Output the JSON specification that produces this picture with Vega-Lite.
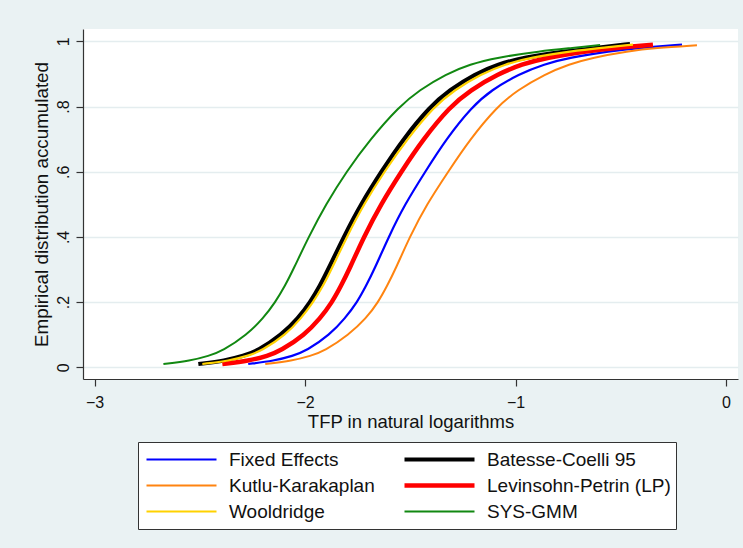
{
  "$schema": "https://vega.github.io/schema/vega-lite/v6.json",
  "width": 655,
  "height": 350,
  "autosize": {"type": "none"},
  "padding": {"left": 83, "top": 29, "right": 5, "bottom": 169},
  "background": "#EAF2F3",
  "data": {
    "values": [
      {"series": "Fixed Effects", "tfp": -2.270, "cdf": 0.01},
      {"series": "Fixed Effects", "tfp": -2.146, "cdf": 0.02},
      {"series": "Fixed Effects", "tfp": -2.058, "cdf": 0.035},
      {"series": "Fixed Effects", "tfp": -1.994, "cdf": 0.05},
      {"series": "Fixed Effects", "tfp": -1.882, "cdf": 0.10},
      {"series": "Fixed Effects", "tfp": -1.810, "cdf": 0.15},
      {"series": "Fixed Effects", "tfp": -1.752, "cdf": 0.20},
      {"series": "Fixed Effects", "tfp": -1.710, "cdf": 0.25},
      {"series": "Fixed Effects", "tfp": -1.671, "cdf": 0.30},
      {"series": "Fixed Effects", "tfp": -1.603, "cdf": 0.40},
      {"series": "Fixed Effects", "tfp": -1.526, "cdf": 0.50},
      {"series": "Fixed Effects", "tfp": -1.429, "cdf": 0.60},
      {"series": "Fixed Effects", "tfp": -1.330, "cdf": 0.70},
      {"series": "Fixed Effects", "tfp": -1.206, "cdf": 0.80},
      {"series": "Fixed Effects", "tfp": -1.116, "cdf": 0.85},
      {"series": "Fixed Effects", "tfp": -0.983, "cdf": 0.90},
      {"series": "Fixed Effects", "tfp": -0.864, "cdf": 0.93},
      {"series": "Fixed Effects", "tfp": -0.745, "cdf": 0.95},
      {"series": "Fixed Effects", "tfp": -0.551, "cdf": 0.97},
      {"series": "Fixed Effects", "tfp": -0.408, "cdf": 0.98},
      {"series": "Fixed Effects", "tfp": -0.209, "cdf": 0.99},

      {"series": "Batesse-Coelli 95", "tfp": -2.507, "cdf": 0.01},
      {"series": "Batesse-Coelli 95", "tfp": -2.379, "cdf": 0.02},
      {"series": "Batesse-Coelli 95", "tfp": -2.291, "cdf": 0.035},
      {"series": "Batesse-Coelli 95", "tfp": -2.226, "cdf": 0.05},
      {"series": "Batesse-Coelli 95", "tfp": -2.110, "cdf": 0.10},
      {"series": "Batesse-Coelli 95", "tfp": -2.033, "cdf": 0.15},
      {"series": "Batesse-Coelli 95", "tfp": -1.975, "cdf": 0.20},
      {"series": "Batesse-Coelli 95", "tfp": -1.929, "cdf": 0.25},
      {"series": "Batesse-Coelli 95", "tfp": -1.890, "cdf": 0.30},
      {"series": "Batesse-Coelli 95", "tfp": -1.816, "cdf": 0.40},
      {"series": "Batesse-Coelli 95", "tfp": -1.735, "cdf": 0.50},
      {"series": "Batesse-Coelli 95", "tfp": -1.638, "cdf": 0.60},
      {"series": "Batesse-Coelli 95", "tfp": -1.534, "cdf": 0.70},
      {"series": "Batesse-Coelli 95", "tfp": -1.406, "cdf": 0.80},
      {"series": "Batesse-Coelli 95", "tfp": -1.315, "cdf": 0.85},
      {"series": "Batesse-Coelli 95", "tfp": -1.192, "cdf": 0.90},
      {"series": "Batesse-Coelli 95", "tfp": -1.083, "cdf": 0.93},
      {"series": "Batesse-Coelli 95", "tfp": -0.964, "cdf": 0.95},
      {"series": "Batesse-Coelli 95", "tfp": -0.755, "cdf": 0.97},
      {"series": "Batesse-Coelli 95", "tfp": -0.608, "cdf": 0.98},
      {"series": "Batesse-Coelli 95", "tfp": -0.456, "cdf": 0.992},

      {"series": "Kutlu-Karakaplan", "tfp": -2.189, "cdf": 0.01},
      {"series": "Kutlu-Karakaplan", "tfp": -2.061, "cdf": 0.02},
      {"series": "Kutlu-Karakaplan", "tfp": -1.973, "cdf": 0.035},
      {"series": "Kutlu-Karakaplan", "tfp": -1.908, "cdf": 0.05},
      {"series": "Kutlu-Karakaplan", "tfp": -1.792, "cdf": 0.10},
      {"series": "Kutlu-Karakaplan", "tfp": -1.710, "cdf": 0.15},
      {"series": "Kutlu-Karakaplan", "tfp": -1.652, "cdf": 0.20},
      {"series": "Kutlu-Karakaplan", "tfp": -1.610, "cdf": 0.25},
      {"series": "Kutlu-Karakaplan", "tfp": -1.571, "cdf": 0.30},
      {"series": "Kutlu-Karakaplan", "tfp": -1.503, "cdf": 0.40},
      {"series": "Kutlu-Karakaplan", "tfp": -1.422, "cdf": 0.50},
      {"series": "Kutlu-Karakaplan", "tfp": -1.320, "cdf": 0.60},
      {"series": "Kutlu-Karakaplan", "tfp": -1.216, "cdf": 0.70},
      {"series": "Kutlu-Karakaplan", "tfp": -1.087, "cdf": 0.80},
      {"series": "Kutlu-Karakaplan", "tfp": -0.992, "cdf": 0.85},
      {"series": "Kutlu-Karakaplan", "tfp": -0.859, "cdf": 0.90},
      {"series": "Kutlu-Karakaplan", "tfp": -0.745, "cdf": 0.93},
      {"series": "Kutlu-Karakaplan", "tfp": -0.636, "cdf": 0.95},
      {"series": "Kutlu-Karakaplan", "tfp": -0.465, "cdf": 0.97},
      {"series": "Kutlu-Karakaplan", "tfp": -0.337, "cdf": 0.98},
      {"series": "Kutlu-Karakaplan", "tfp": -0.138, "cdf": 0.988},

      {"series": "Levinsohn-Petrin (LP)", "tfp": -2.393, "cdf": 0.01},
      {"series": "Levinsohn-Petrin (LP)", "tfp": -2.265, "cdf": 0.02},
      {"series": "Levinsohn-Petrin (LP)", "tfp": -2.177, "cdf": 0.035},
      {"series": "Levinsohn-Petrin (LP)", "tfp": -2.117, "cdf": 0.05},
      {"series": "Levinsohn-Petrin (LP)", "tfp": -2.001, "cdf": 0.10},
      {"series": "Levinsohn-Petrin (LP)", "tfp": -1.928, "cdf": 0.15},
      {"series": "Levinsohn-Petrin (LP)", "tfp": -1.871, "cdf": 0.20},
      {"series": "Levinsohn-Petrin (LP)", "tfp": -1.829, "cdf": 0.25},
      {"series": "Levinsohn-Petrin (LP)", "tfp": -1.790, "cdf": 0.30},
      {"series": "Levinsohn-Petrin (LP)", "tfp": -1.721, "cdf": 0.40},
      {"series": "Levinsohn-Petrin (LP)", "tfp": -1.640, "cdf": 0.50},
      {"series": "Levinsohn-Petrin (LP)", "tfp": -1.543, "cdf": 0.60},
      {"series": "Levinsohn-Petrin (LP)", "tfp": -1.439, "cdf": 0.70},
      {"series": "Levinsohn-Petrin (LP)", "tfp": -1.311, "cdf": 0.80},
      {"series": "Levinsohn-Petrin (LP)", "tfp": -1.216, "cdf": 0.85},
      {"series": "Levinsohn-Petrin (LP)", "tfp": -1.083, "cdf": 0.90},
      {"series": "Levinsohn-Petrin (LP)", "tfp": -0.969, "cdf": 0.93},
      {"series": "Levinsohn-Petrin (LP)", "tfp": -0.855, "cdf": 0.95},
      {"series": "Levinsohn-Petrin (LP)", "tfp": -0.665, "cdf": 0.97},
      {"series": "Levinsohn-Petrin (LP)", "tfp": -0.527, "cdf": 0.98},
      {"series": "Levinsohn-Petrin (LP)", "tfp": -0.347, "cdf": 0.99},

      {"series": "Wooldridge", "tfp": -2.488, "cdf": 0.01},
      {"series": "Wooldridge", "tfp": -2.360, "cdf": 0.02},
      {"series": "Wooldridge", "tfp": -2.272, "cdf": 0.035},
      {"series": "Wooldridge", "tfp": -2.207, "cdf": 0.05},
      {"series": "Wooldridge", "tfp": -2.091, "cdf": 0.10},
      {"series": "Wooldridge", "tfp": -2.019, "cdf": 0.15},
      {"series": "Wooldridge", "tfp": -1.961, "cdf": 0.20},
      {"series": "Wooldridge", "tfp": -1.914, "cdf": 0.25},
      {"series": "Wooldridge", "tfp": -1.875, "cdf": 0.30},
      {"series": "Wooldridge", "tfp": -1.802, "cdf": 0.40},
      {"series": "Wooldridge", "tfp": -1.721, "cdf": 0.50},
      {"series": "Wooldridge", "tfp": -1.624, "cdf": 0.60},
      {"series": "Wooldridge", "tfp": -1.515, "cdf": 0.70},
      {"series": "Wooldridge", "tfp": -1.387, "cdf": 0.80},
      {"series": "Wooldridge", "tfp": -1.292, "cdf": 0.85},
      {"series": "Wooldridge", "tfp": -1.163, "cdf": 0.90},
      {"series": "Wooldridge", "tfp": -1.049, "cdf": 0.93},
      {"series": "Wooldridge", "tfp": -0.931, "cdf": 0.95},
      {"series": "Wooldridge", "tfp": -0.731, "cdf": 0.97},
      {"series": "Wooldridge", "tfp": -0.594, "cdf": 0.98},
      {"series": "Wooldridge", "tfp": -0.442, "cdf": 0.99},

      {"series": "SYS-GMM", "tfp": -2.673, "cdf": 0.01},
      {"series": "SYS-GMM", "tfp": -2.545, "cdf": 0.02},
      {"series": "SYS-GMM", "tfp": -2.457, "cdf": 0.035},
      {"series": "SYS-GMM", "tfp": -2.393, "cdf": 0.05},
      {"series": "SYS-GMM", "tfp": -2.276, "cdf": 0.10},
      {"series": "SYS-GMM", "tfp": -2.199, "cdf": 0.15},
      {"series": "SYS-GMM", "tfp": -2.141, "cdf": 0.20},
      {"series": "SYS-GMM", "tfp": -2.095, "cdf": 0.25},
      {"series": "SYS-GMM", "tfp": -2.056, "cdf": 0.30},
      {"series": "SYS-GMM", "tfp": -1.983, "cdf": 0.40},
      {"series": "SYS-GMM", "tfp": -1.901, "cdf": 0.50},
      {"series": "SYS-GMM", "tfp": -1.804, "cdf": 0.60},
      {"series": "SYS-GMM", "tfp": -1.690, "cdf": 0.70},
      {"series": "SYS-GMM", "tfp": -1.553, "cdf": 0.80},
      {"series": "SYS-GMM", "tfp": -1.458, "cdf": 0.85},
      {"series": "SYS-GMM", "tfp": -1.330, "cdf": 0.90},
      {"series": "SYS-GMM", "tfp": -1.216, "cdf": 0.93},
      {"series": "SYS-GMM", "tfp": -1.092, "cdf": 0.95},
      {"series": "SYS-GMM", "tfp": -0.883, "cdf": 0.97},
      {"series": "SYS-GMM", "tfp": -0.726, "cdf": 0.98},
      {"series": "SYS-GMM", "tfp": -0.598, "cdf": 0.989}
    ]
  },
  "mark": {"type": "line", "interpolate": "basis", "clip": true},
  "encoding": {
    "x": {
      "field": "tfp",
      "type": "quantitative",
      "scale": {"domain": [-3.055, 0.057], "nice": false, "zero": false},
      "axis": {
        "title": "TFP in natural logarithms",
        "values": [-3, -2, -1, 0],
        "format": "d",
        "grid": false,
        "labelPadding": 8,
        "titlePadding": 2
      }
    },
    "y": {
      "field": "cdf",
      "type": "quantitative",
      "scale": {"domain": [-0.036, 1.038], "nice": false, "zero": false},
      "axis": {
        "title": "Empirical distribution accumulated",
        "values": [0, 0.2, 0.4, 0.6, 0.8, 1],
        "labelExpr": "datum.value == 0 ? '0' : datum.value == 1 ? '1' : '.' + format(datum.value * 10, 'd')",
        "labelAngle": 270,
        "labelAlign": "center",
        "labelBaseline": "bottom",
        "labelPadding": 5,
        "grid": true,
        "gridColor": "#E4EDEF",
        "gridWidth": 1.5,
        "titlePadding": 4,
        "titleFontSize": 18.8
      }
    },
    "color": {
      "field": "series",
      "type": "nominal",
      "scale": {
        "domain": ["Fixed Effects", "Kutlu-Karakaplan", "Wooldridge", "Batesse-Coelli 95", "Levinsohn-Petrin (LP)", "SYS-GMM"],
        "range": ["#0000FF", "#FF8410", "#FFD200", "#000000", "#FF0000", "#118811"]
      },
      "legend": {"title": null}
    },
    "strokeWidth": {
      "field": "series",
      "type": "nominal",
      "scale": {
        "type": "ordinal",
        "domain": ["Fixed Effects", "Kutlu-Karakaplan", "Wooldridge", "Batesse-Coelli 95", "Levinsohn-Petrin (LP)", "SYS-GMM"],
        "range": [2.2, 2, 2.2, 4.2, 4.5, 2]
      },
      "legend": {"title": null}
    }
  },
  "config": {
    "font": "Liberation Sans",
    "view": {"stroke": null, "fill": "white"},
    "axis": {
      "domainColor": "#333333",
      "domainWidth": 1.2,
      "tickColor": "#333333",
      "tickSize": 7,
      "tickWidth": 1.2,
      "labelFont": "Liberation Sans",
      "labelFontSize": 16,
      "labelColor": "#111111",
      "titleFont": "Liberation Sans",
      "titleFontSize": 18.5,
      "titleFontWeight": "normal",
      "titleColor": "#111111"
    },
    "legend": {
      "orient": "none",
      "legendX": 55,
      "legendY": 413,
      "direction": "vertical",
      "columns": 2,
      "symbolType": "stroke",
      "symbolSize": 4900,
      "symbolOffset": 1.5,
      "labelOffset": 10,
      "labelFont": "Liberation Sans",
      "labelFontSize": 19,
      "labelColor": "#111111",
      "labelLimit": 400,
      "columnPadding": 25,
      "rowPadding": 0,
      "clipHeight": 26,
      "padding": 4.5,
      "fillColor": "white",
      "strokeColor": "#333333",
      "cornerRadius": 0
    }
  }
}
